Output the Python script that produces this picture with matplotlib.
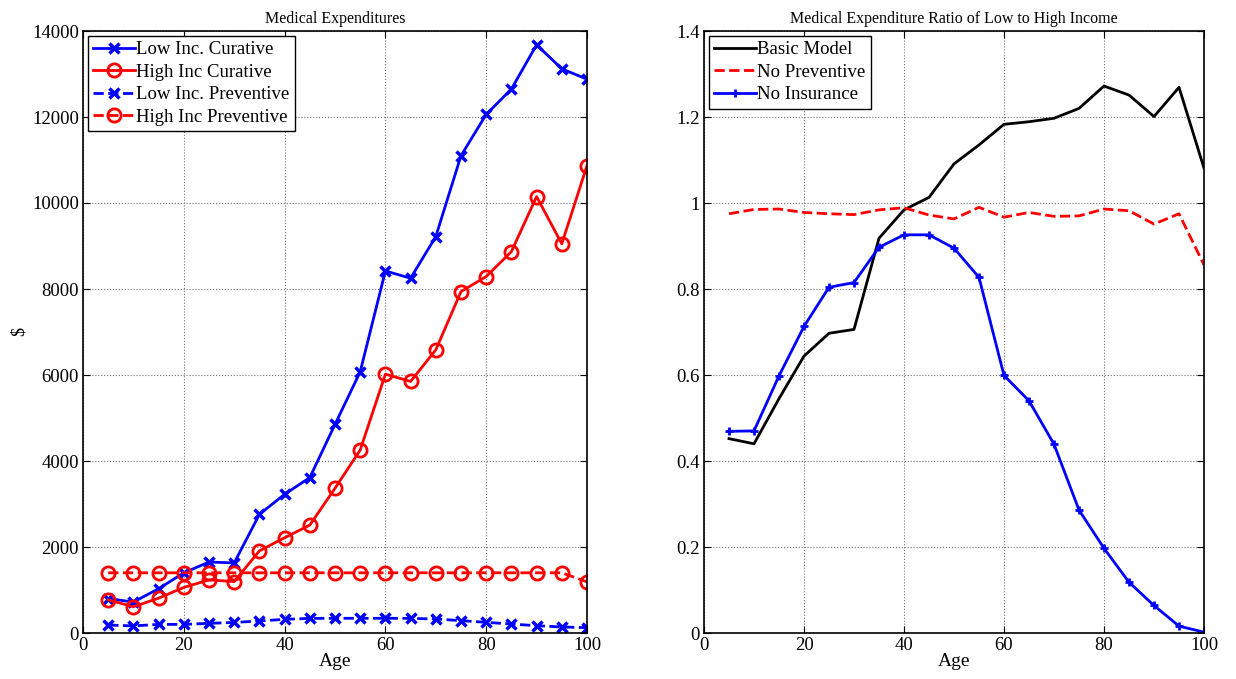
import matplotlib
matplotlib.use("Agg")
import matplotlib.pyplot as plt

plt.rcParams['font.family'] = ['Liberation Serif', 'DejaVu Serif']
plt.rcParams['mathtext.fontset'] = 'stix'

# ages
age = [5, 10, 15, 20, 25, 30, 35, 40, 45, 50, 55, 60, 65, 70, 75, 80, 85, 90, 95, 100]

# left panel: medical expenditures ($)
low_cur = [800, 720, 1030, 1400, 1650, 1630, 2760, 3225, 3615, 4850, 6075, 8420, 8250,
           9220, 11100, 12060, 12650, 13680, 13120, 12880]
high_cur = [770, 610, 810, 1060, 1235, 1195, 1910, 2215, 2510, 3365, 4255, 6020, 5850,
            6585, 7940, 8290, 8870, 10150, 9050, 10870]
low_prev = [185, 165, 200, 200, 225, 245, 280, 318, 340, 342, 342, 342, 340,
            326, 287, 248, 209, 170, 140, 124]
high_prev = [1400, 1400, 1400, 1400, 1400, 1400, 1400, 1400, 1400, 1400, 1400, 1400, 1400,
             1400, 1400, 1400, 1400, 1400, 1400, 1190]

# right panel: ratio low / high income
basic = [0.452, 0.440, 0.545, 0.644, 0.697, 0.706, 0.918, 0.984, 1.013, 1.091, 1.135, 1.183,
         1.189, 1.197, 1.220, 1.272, 1.251, 1.201, 1.269, 1.081]
no_prev = [0.975, 0.985, 0.986, 0.978, 0.975, 0.973, 0.984, 0.989, 0.972, 0.963, 0.990, 0.967,
           0.978, 0.969, 0.970, 0.986, 0.982, 0.951, 0.975, 0.856]
no_ins = [0.469, 0.470, 0.598, 0.713, 0.804, 0.815, 0.897, 0.926, 0.926, 0.895, 0.827, 0.599,
          0.540, 0.439, 0.286, 0.197, 0.118, 0.064, 0.016, 0.002]

fig = plt.figure(figsize=(12.36, 6.79), dpi=100)
ax1 = fig.add_axes([83/1236, 46/679, 504/1236, 602/679])
ax2 = fig.add_axes([704/1236, 46/679, 500/1236, 602/679])

leg_kw = dict(loc='upper left', fontsize=13.5, handlelength=2.2, handletextpad=0.1,
              borderpad=0.3, labelspacing=0.28, fancybox=False, edgecolor='k',
              framealpha=1, borderaxespad=0.25)

ax1.plot(age, low_cur, 'b-x', lw=2, ms=6.5, mew=2.5, label='Low Inc. Curative')
ax1.plot(age, high_cur, 'r-o', lw=2, ms=9.5, mew=2, mfc='none', label='High Inc Curative')
ax1.plot(age, low_prev, 'b--x', lw=2, ms=6.5, mew=2.5, label='Low Inc. Preventive')
ax1.plot(age, high_prev, 'r--o', lw=2, ms=9.5, mew=2, mfc='none', label='High Inc Preventive')
ax1.set_xlim(0, 100)
ax1.set_ylim(0, 14000)
ax1.set_yticks(range(0, 14001, 2000))
ax1.set_title('Medical Expenditures', fontsize=11.5, pad=6)
ax1.set_xlabel('Age', fontsize=14, labelpad=-1)
ax1.set_ylabel('$', fontsize=13)
ax1.yaxis.set_label_coords(-0.11, 0.5)
ax1.legend(**leg_kw)

ax2.plot(age, basic, 'k-', lw=2, label='Basic Model')
ax2.plot(age, no_prev, 'r--', lw=2, label='No Preventive')
ax2.plot(age, no_ins, 'b-+', lw=2, ms=6, mew=2, label='No Insurance')
ax2.set_xlim(0, 100)
ax2.set_ylim(0, 1.4)
ax2.set_yticks([0, 0.2, 0.4, 0.6, 0.8, 1, 1.2, 1.4])
ax2.set_yticklabels(['0', '0.2', '0.4', '0.6', '0.8', '1', '1.2', '1.4'])
ax2.set_title('Medical Expenditure Ratio of Low to High Income', fontsize=11.5, pad=6)
ax2.set_xlabel('Age', fontsize=14, labelpad=-1)
ax2.legend(**leg_kw)

for ax in (ax1, ax2):
    ax.set_xticks([0, 20, 40, 60, 80, 100])
    ax.grid(True, linestyle=':', color='0.45', lw=0.8)
    ax.tick_params(direction='in', top=True, right=True, labelsize=13.5, length=5, pad=3)
    for s in ax.spines.values():
        s.set_linewidth(1.2)

fig.savefig('out.png', dpi=100)
